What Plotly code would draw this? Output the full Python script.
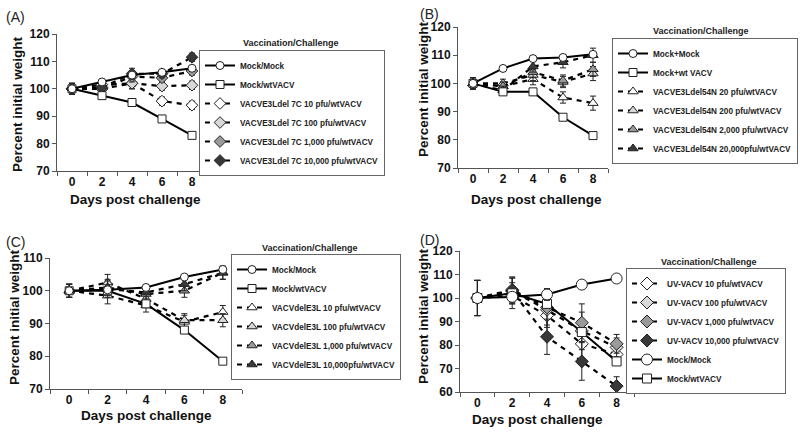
import plotly.graph_objects as go

days = [0, 2, 4, 6, 8]

# Panel A
a_names = ["Mock/Mock", "Mock/wtVACV", "VACVE3Ldel 7C 10 pfu/wtVACV", "VACVE3Ldel 7C 100 pfu/wtVACV",
           "VACVE3Ldel 7C 1,000 pfu/wtVACV", "VACVE3Ldel 7C 10,000 pfu/wtVACV"]
a_mock = [100, 102.5, 105, 106, 107.5]
a_wt = [100, 97.5, 95, 89, 83]
a_10 = [100, 101.5, 102, 95.5, 94]
a_100 = [100, 100, 102, 101, 101.3]
a_1000 = [100, 100, 104.5, 104, 106.5]
a_10000 = [100, 100.5, 105.5, 105.5, 111.5]
a_err = [2, 1.5, 2, 1.5, 1.5]

# Panel B
b_names = ["Mock+Mock", "Mock+wt VACV", "VACVE3Ldel54N 20 pfu/wtVACV", "VACVE3Ldel54N 200 pfu/wtVACV",
           "VACVE3Ldel54N 2,000 pfu/wtVACV", "VACVE3Ldel54N 20,000pfu/wtVACV"]
b_mock = [100, 105.3, 108.8, 109.2, 110.3]
b_wt = [100, 97, 97, 88, 81.5]
b_20 = [100, 99, 101.5, 95, 93]
b_200 = [100, 100, 103, 100.5, 103.5]
b_2000 = [100, 99, 104, 101, 105]
b_20000 = [100, 97.5, 106, 107.5, 110]
b_err = [2, 1.5, 2, 2, 2.5]

# Panel C
c_names = ["Mock/Mock", "Mock/wtVACV", "VACVdelE3L 10 pfu/wtVACV", "VACVdelE3L 100 pfu/wtVACV",
           "VACVdelE3L 1,000 pfu/wtVACV", "VACVdelE3L 10,000pfu/wtVACV"]
c_mock = [100, 100.3, 101, 104.2, 106.5]
c_wt = [100, 100, 96, 88, 78.5]
c_10 = [100, 98.5, 95.5, 90.5, 93.5]
c_100 = [100, 102.5, 97.5, 91, 91]
c_1000 = [100, 101, 99, 100, 105.5]
c_10000 = [100, 100.5, 99.5, 102, 105.5]
c_err = [2, 2.5, 2, 2, 2]

# Panel D
d_names = ["UV-VACV 10 pfu/wtVACV", "UV-VACV 100 pfu/wtVACV", "UV-VACV 1,000 pfu/wtVACV",
           "UV-VACV 10,000 pfu/wtVACV", "Mock/Mock", "Mock/wtVACV"]
d_10 = [100, 101, 92.5, 80.5, 76]
d_100 = [100, 103, 95, 86, 79]
d_1000 = [100, 103.5, 96, 89.5, 80.5]
d_10000 = [100, 103, 83.5, 73, 62.5]
d_mock = [100, 100.5, 101.5, 105.7, 108.3]
d_wt = [100, 102, 97.5, 85.5, 73]
d_err = [7.5, 5.5, 7.5, 8, 4]

x_title = "Days post challenge"
y_title = "Percent initial weight"

fills = ["white", "#d8d8d8", "#9a9a9a", "#383838"]
FONT = "Liberation Sans, Arial, sans-serif"
DASH = "5px,5px"

fig = go.Figure()


def add(x_ax, y_ax, legend, name, y, symbol, fill, dashed, rank, err, size=8):
    fig.add_trace(go.Scatter(
        x=days, y=y, name=name, mode="lines+markers",
        xaxis=x_ax, yaxis=y_ax, legend=legend, legendrank=rank,
        line=dict(color="black", width=2.2 if dashed else 2, dash=DASH if dashed else "solid"),
        marker=dict(symbol=symbol, size=size, color=fill, line=dict(color="#222", width=1)),
        error_y=dict(type="data", array=err, color="#222", thickness=1, width=3),
    ))


zero = [0] * 5

# A
for i, (vals, nm) in enumerate(zip([a_10, a_100, a_1000, a_10000], a_names[2:])):
    add("x", "y", "legend", nm, vals, "diamond", fills[i], True, 3 + i, a_err, 9)
add("x", "y", "legend", a_names[1], a_wt, "square", "white", False, 2, zero, 8)
add("x", "y", "legend", a_names[0], a_mock, "circle", "white", False, 1, zero, 8)

# B
for i, (vals, nm) in enumerate(zip([b_20, b_200, b_2000, b_20000], b_names[2:])):
    add("x2", "y2", "legend2", nm, vals, "triangle-up", fills[i], True, 3 + i, b_err, 9)
add("x2", "y2", "legend2", b_names[1], b_wt, "square", "white", False, 2, zero, 8)
add("x2", "y2", "legend2", b_names[0], b_mock, "circle", "white", False, 1, zero, 8)

# C
for i, (vals, nm) in enumerate(zip([c_10, c_100, c_1000, c_10000], c_names[2:])):
    add("x3", "y3", "legend3", nm, vals, "triangle-up", fills[i], True, 3 + i, c_err, 9)
add("x3", "y3", "legend3", c_names[1], c_wt, "square", "white", False, 2, zero, 8)
add("x3", "y3", "legend3", c_names[0], c_mock, "circle", "white", False, 1, zero, 8)

# D
for i, (vals, nm) in enumerate(zip([d_10, d_100, d_1000, d_10000], d_names[:4])):
    add("x4", "y4", "legend4", nm, vals, "diamond", fills[i], True, 1 + i, d_err, 10)
add("x4", "y4", "legend4", d_names[5], d_wt, "square", "white", False, 6, zero, 9)
add("x4", "y4", "legend4", d_names[4], d_mock, "circle", "white", False, 5, [0, 0, 2.5, 0, 0], 11)

W, H = 800, 433


def xdom(l, r):
    return [l / W, r / W]


def ydom(top, bot):
    return [1 - bot / H, 1 - top / H]


tickfont = dict(family=FONT, size=12, color="#111", weight="bold")
titlefont = dict(family=FONT, size=13.5, color="#111", weight="bold")


def xaxis(dom, anchor):
    return dict(domain=dom, anchor=anchor, range=[-1, 9], tickvals=[0, 2, 4, 6, 8],
                ticks="", showline=True, linecolor="#555", linewidth=1, showgrid=False,
                zeroline=False, tickfont=tickfont, automargin=False,
                minor=dict(tickmode="array", tickvals=[-1, 1, 3, 5, 7, 9], ticks="outside",
                           ticklen=4, tickcolor="#555", showgrid=False))


def yaxis(dom, anchor, rng, dtick):
    return dict(domain=dom, anchor=anchor, range=rng, dtick=dtick, ticks="outside",
                ticklen=4, tickcolor="#555", showline=True, linecolor="#555", linewidth=1,
                showgrid=False, zeroline=False, tickfont=tickfont, automargin=False)


legfont = dict(family=FONT, size=8.2, color="#222", weight="bold")


def legend(x, y):
    return dict(x=x / W, y=1 - y / H, xanchor="left", yanchor="top", bgcolor="white",
                bordercolor="#666", borderwidth=1, font=legfont, tracegroupgap=0,
                itemwidth=30)


fig.update_layout(
    width=W, height=H, margin=dict(l=0, r=0, t=0, b=0, autoexpand=False),
    paper_bgcolor="white", plot_bgcolor="white", font=dict(family=FONT),
    xaxis=xaxis(xdom(57, 207), "y"), yaxis=yaxis(ydom(34, 171), "x", [70, 120], 10),
    xaxis2=xaxis(xdom(458, 608), "y2"), yaxis2=yaxis(ydom(27, 168), "x2", [70, 120], 10),
    xaxis3=xaxis(xdom(50, 242), "y3"), yaxis3=yaxis(ydom(258, 389), "x3", [70, 110], 10),
    xaxis4=xaxis(xdom(460, 634), "y4"), yaxis4=yaxis(ydom(251, 392), "x4", [60, 120], 10),
    legend=legend(199, 50), legend2=legend(612, 38), legend3=legend(231, 254), legend4=legend(626, 268),
)


def ann(text, x, y, font, angle=0, xanchor="center"):
    fig.add_annotation(text=text, x=x / W, y=1 - y / H, xref="paper", yref="paper",
                       xanchor=xanchor, yanchor="middle", showarrow=False, textangle=angle, font=font)


for t, x, y in [("(A)", 4, 17), ("(B)", 418, 14), ("(C)", 4, 242), ("(D)", 418, 240)]:
    ann(t, x, y, dict(family=FONT, size=14, color="#222"), xanchor="left")

for x, y in [(291, 43), (701, 31), (310, 248), (709, 262)]:
    ann("Vaccination/Challenge", x, y, dict(family=FONT, size=9, color="#222", weight="bold"))

for x, y in [(135, 200), (536, 199), (146, 415), (537, 419)]:
    ann(x_title, x, y, titlefont)

for x, y in [(18, 104), (423, 89), (14, 317), (423, 316)]:
    ann(y_title, x, y, titlefont, angle=-90)

fig.write_html("out.html", config={"displayModeBar": False},
               post_script="document.body.style.margin='0';document.body.style.padding='0';")
